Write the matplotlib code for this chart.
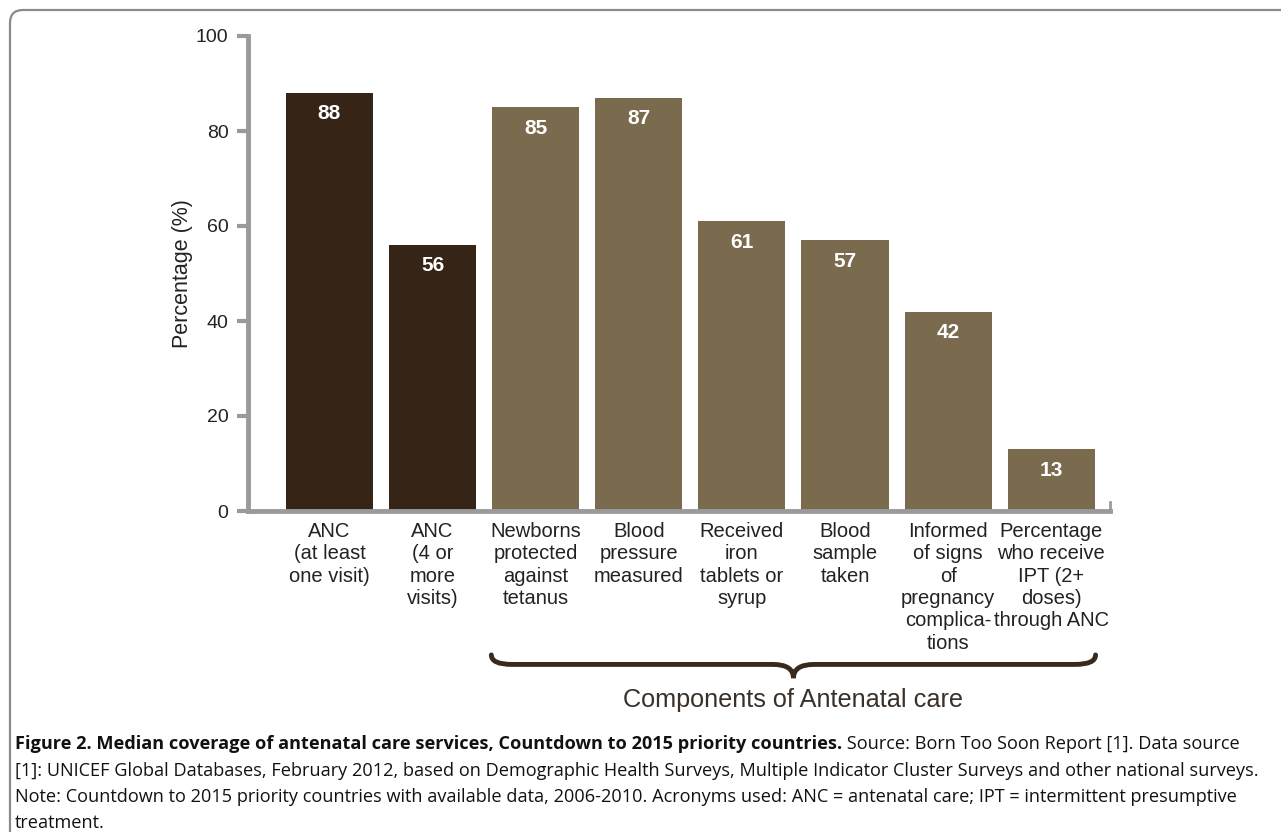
import numpy as np
import matplotlib.pyplot as plt
from matplotlib.path import Path
from matplotlib.patches import PathPatch, FancyBboxPatch

# Chart data
categories = ["ANC\n(at least\none visit)", "ANC\n(4 or\nmore\nvisits)",
              "Newborns\nprotected\nagainst\ntetanus", "Blood\npressure\nmeasured",
              "Received\niron\ntablets or\nsyrup", "Blood\nsample\ntaken",
              "Informed\nof signs\nof\npregnancy\ncomplica-\ntions",
              "Percentage\nwho receive\nIPT (2+\ndoses)\nthrough ANC"]
values = [88, 56, 85, 87, 61, 57, 42, 13]
groups = ["anc", "anc", "comp", "comp", "comp", "comp", "comp", "comp"]
yticks = [0, 20, 40, 60, 80, 100]

colors = {"anc": "#362416", "comp": "#7b6b4e"}
axis_grey = "#9a9a9a"

plt.rcParams['font.family'] = ['Liberation Sans', 'DejaVu Sans']

fig = plt.figure(figsize=(12.81, 8.32), dpi=100)
ax = fig.add_axes([248 / 1281, 1 - 511 / 832, (1110 - 248) / 1281, (511 - 36) / 832])

x = np.arange(len(values))
bars = ax.bar(x, values, width=0.845, color=[colors[g] for g in groups])

# value labels inside the bar tops
for xi, v in zip(x, values):
    ax.text(xi, v - 4.4, str(v), ha='center', va='center', color='white',
            fontsize=15, fontweight='bold')

ax.set_xlim(-0.79, 7.57)
ax.set_ylim(0, 100)
ax.set_yticks(yticks)
ax.tick_params(axis='y', length=8, width=3, color=axis_grey, labelsize=14,
               labelcolor='#222222', pad=6)
ax.set_xticks(x)
ax.set_xticklabels(categories, fontsize=14.5, color='#222222', linespacing=1.22,
                   va='top')
ax.tick_params(axis='x', length=0, pad=8)
for side in ['top', 'right']:
    ax.spines[side].set_visible(False)
for side in ['left', 'bottom']:
    ax.spines[side].set_color(axis_grey)
    ax.spines[side].set_linewidth(3.5)
ax.spines['left'].set_bounds(0, 100)

# little end tick on the right of the x axis
ax.plot([7.57, 7.57], [0, 2], color=axis_grey, lw=2, clip_on=False)

ax.set_ylabel("Percentage (%)", fontsize=15.5, color='#222222', labelpad=2)

# brace under the component bars
x0, x1 = 2 - 0.43, 7 + 0.43
xc = (x0 + x1) / 2
yb, ye, yt = -32.3, -30.3, -35.2
verts = [(x0, ye), (x0, yb), (x0 + 0.2, yb),
         (xc - 0.2, yb), (xc, yb), (xc, yt),
         (xc, yb), (xc + 0.2, yb),
         (x1 - 0.2, yb), (x1, yb), (x1, ye)]
codes = [Path.MOVETO, Path.CURVE3, Path.CURVE3,
         Path.LINETO, Path.CURVE3, Path.CURVE3,
         Path.CURVE3, Path.CURVE3,
         Path.LINETO, Path.CURVE3, Path.CURVE3]
ax.add_patch(PathPatch(Path(verts, codes), facecolor='none', edgecolor='#3a2a1c',
                       lw=3.5, clip_on=False, capstyle='round'))
ax.text(xc, -39.8, "Components of Antenatal care", ha='center', va='center',
        fontsize=18.2, color='#3a3028')

# frame around the figure (only top-left corner visible)
frame = FancyBboxPatch((0.1, -1.0), 14, 9.22, boxstyle="round,pad=0,rounding_size=0.13",
                       transform=fig.dpi_scale_trans, facecolor='none',
                       edgecolor='#8a8a8a', lw=1.6)
fig.patches.append(frame)

# caption
cap_font = ['Open Sans', 'DejaVu Sans']
cap_size = 13.1
bold = fig.text(15 / 1281, 1 - 744 / 832,
                "Figure 2. Median coverage of antenatal care services, Countdown to 2015 priority countries.",
                fontsize=cap_size, fontweight='bold', family=cap_font, va='center', color='#111111')
ax.annotate(" Source: Born Too Soon Report [1]. Data source", xy=(1, 0.5), xycoords=bold,
            va='center', ha='left', fontsize=cap_size, family=cap_font, color='#111111')
rest = ["[1]: UNICEF Global Databases, February 2012, based on Demographic Health Surveys, Multiple Indicator Cluster Surveys and other national surveys.",
        "Note: Countdown to 2015 priority countries with available data, 2006-2010. Acronyms used: ANC = antenatal care; IPT = intermittent presumptive",
        "treatment."]
for i, line in enumerate(rest):
    fig.text(15 / 1281, 1 - (771 + 26 * i) / 832, line, fontsize=cap_size, family=cap_font,
             va='center', color='#111111')

fig.savefig("out.png", dpi=100)
